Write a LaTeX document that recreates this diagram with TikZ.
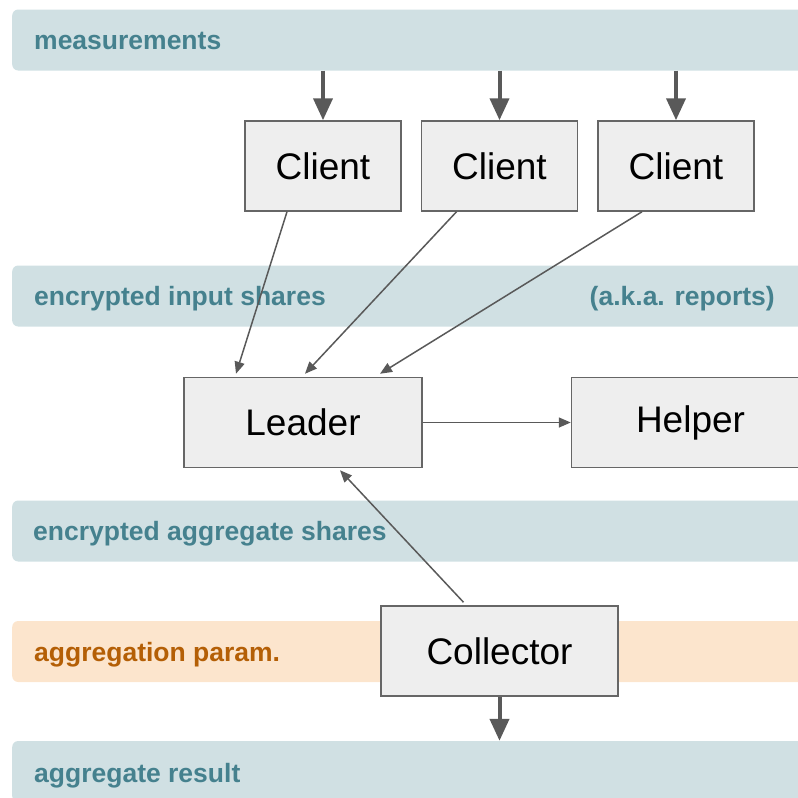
\documentclass[tikz,border=0pt]{standalone}
\usepackage{fontspec}
\setmainfont{Liberation Sans}
\usetikzlibrary{positioning, arrows.meta}
\definecolor{bandblue}{HTML}{D0E0E3}
\definecolor{bandtext}{HTML}{45818E}
\definecolor{bandorange}{HTML}{FCE5CD}
\definecolor{orangetext}{HTML}{B45F06}
\definecolor{boxfill}{HTML}{EEEEEE}
\definecolor{boxline}{HTML}{666666}
\definecolor{arrowgray}{HTML}{595959}

\tikzset{
    band/.style = {fill=bandblue, rounded corners=6pt, minimum width=830pt,
        minimum height=61pt, inner sep=0pt, anchor=west},
    bandlabel/.style = {text=bandtext, font=\fontsize{26.5}{31}\selectfont\bfseries,
        inner sep=0pt, anchor=base west},
    party/.style = {draw=boxline, fill=boxfill, line width=1.5pt, inner sep=0pt,
        minimum width=156pt, minimum height=90pt, font=\fontsize{37}{44}\selectfont},
    bigarrow/.style = {draw=arrowgray, line width=4pt,
        -{Triangle[length=22pt, width=19pt]}},
    thinarrow/.style = {draw=arrowgray, line width=1.5pt,
        -{Triangle[length=12pt, width=10pt]}}
}

\begin{document}
\begin{tikzpicture}[x=1pt, y=-1pt]
    \useasboundingbox (0,0) rectangle (798,798);
    \clip (0,0) rectangle (798,798);

    % bands
    \node[band] (meas) at (12,40) {};
    \node[band] (inshares) at (12,296) {};
    \node[band] (aggshares) at (12,531) {};
    \node[band, fill=bandorange] (param) at (12,651.5) {};
    \node[band] (result) at (12,771.5) {};

    \node[bandlabel] (measlbl) at (34,49) {measurements};
    \node[bandlabel] (inlbl) at (34,305) {encrypted input shares};
    \node[bandlabel, anchor=base east] (aka) at (775,305) {(a.k.a. reports)};
    \node[bandlabel] (agglbl) at (33,540) {encrypted aggregate shares};
    \node[bandlabel, text=orangetext] (paramlbl) at (34,661) {aggregation param.};
    \node[bandlabel] (resultlbl) at (34,782) {aggregate result};

    % parties
    \node[party] (client1) at (323,166) {Client};
    \node[party, right=19pt of client1] (client2) {Client};
    \node[party, right=19pt of client2] (client3) {Client};
    \node[party, minimum width=238pt] (leader) at (303,422.5) {Leader};
    \node[party, minimum width=238pt, right=148pt of leader] (helper) {Helper};
    \node[party, minimum width=237pt] (collector) at (499.5,651) {Collector};

    % flows
    \draw[bigarrow] (meas.south -| client1) -- (client1.north);
    \draw[bigarrow] (meas.south -| client2) -- (client2.north);
    \draw[bigarrow] (meas.south -| client3) -- (client3.north);
    \draw[thinarrow] ([xshift=-36pt]client1.south) -- ([xshift=-67pt, yshift=3pt]leader.north);
    \draw[thinarrow] ([xshift=-43pt]client2.south) -- ([xshift=2pt, yshift=3pt]leader.north);
    \draw[thinarrow] ([xshift=-34pt]client3.south) -- ([xshift=77pt, yshift=3pt]leader.north);
    \draw[thinarrow] (leader.east) -- (helper.west);
    \draw[thinarrow] ([xshift=-36pt, yshift=3pt]collector.north) -- ([xshift=37pt, yshift=-2pt]leader.south);
    \draw[bigarrow] (collector.south) -- (result.north -| collector.south);
\end{tikzpicture}
\end{document}
